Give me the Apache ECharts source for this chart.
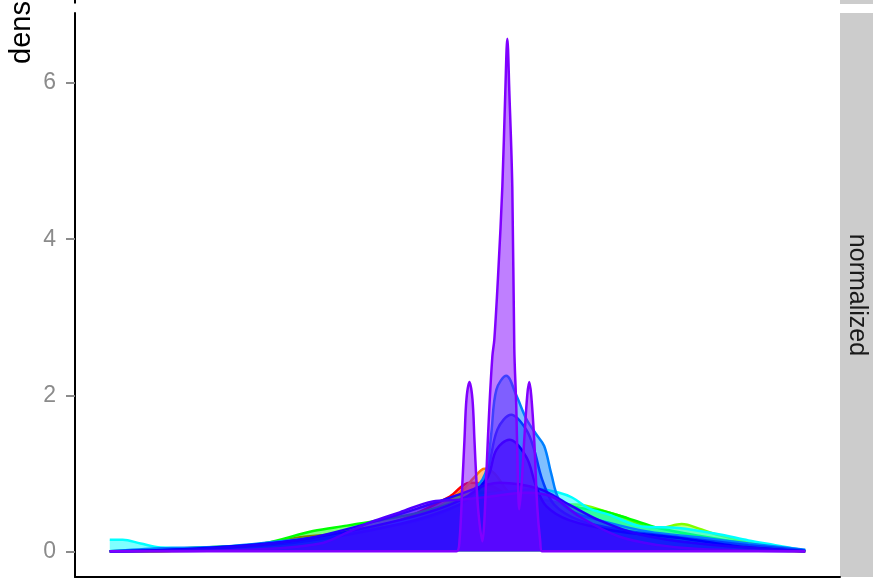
<!DOCTYPE html>
<html>
<head>
<meta charset="utf-8">
<script src="https://cdn.jsdelivr.net/npm/echarts@6/dist/echarts.min.js"></script>
<style>
html,body{margin:0;padding:0;background:#fff;}
#chart{width:873px;height:578px;}
</style>
</head>
<body>
<div id="chart"></div>
<script>
// y-axis tick values
const yTicks = [0, 2, 4, 6];
const stripLabel = 'normalized';
const yTitle = 'density';

// density curves, [x, density] pairs, drawn bottom to top
const sRed = [[-3.49,0],[-2.08,0.05],[-1.58,0.18],[-1.11,0.24],[-0.58,0.4],[-0.08,0.7],[0.12,0.88],[0.32,0.85],[0.52,0.7],[0.82,0.45],[1.22,0.3],[1.92,0.15],[2.92,0.04],[3.49,0]];
const sOrange = [[-3.49,0],[-2.08,0.05],[-1.28,0.22],[-0.38,0.45],[0.02,0.75],[0.17,0.95],[0.27,1.06],[0.37,1.0],[0.52,0.75],[0.82,0.5],[1.22,0.35],[1.62,0.25],[2.42,0.1],[3.49,0]];
const sYellow = [[-3.49,0],[-2.08,0.03],[-1.08,0.15],[-0.28,0.35],[0.22,0.55],[0.62,0.5],[1.22,0.3],[1.92,0.15],[2.62,0.05],[3.49,0]];
const sChartreuse = [[-3.49,0],[-2.08,0.05],[-1.08,0.25],[-0.38,0.45],[-0.05,0.66],[0.22,0.8],[0.42,0.72],[0.82,0.6],[1.19,0.6],[1.52,0.5],[1.69,0.43],[1.89,0.32],[2.04,0.3],[2.25,0.35],[2.45,0.28],[2.59,0.22],[2.89,0.13],[3.19,0.06],[3.49,0]];
const sGreen = [[-3.49,0],[-2.98,0.03],[-2.38,0.06],[-1.95,0.1],[-1.45,0.26],[-1.11,0.33],[-0.78,0.4],[-0.38,0.5],[-0.05,0.62],[0.22,0.75],[0.42,0.75],[0.72,0.7],[1.02,0.62],[1.22,0.56],[1.45,0.52],[1.72,0.42],[2.02,0.3],[2.42,0.2],[2.92,0.1],[3.49,0.01]];
const sCyan = [[-3.49,0.15],[-3.36,0.15],[-3.18,0.1],[-2.98,0.05],[-2.58,0.04],[-1.98,0.07],[-1.38,0.15],[-0.78,0.3],[-0.28,0.5],[0.12,0.68],[0.42,0.75],[0.82,0.8],[1.02,0.75],[1.15,0.69],[1.32,0.55],[1.52,0.47],[1.85,0.32],[2.22,0.3],[2.62,0.22],[2.92,0.14],[3.19,0.08],[3.49,0.01]];
const sAzure = [[-3.49,0],[-2.98,0.04],[-2.38,0.06],[-1.78,0.13],[-1.28,0.2],[-0.78,0.3],[-0.38,0.4],[0.02,0.6],[0.17,0.8],[0.25,0.92],[0.30,1.09],[0.34,1.52],[0.39,2.07],[0.49,2.25],[0.59,2.0],[0.69,1.7],[0.79,1.5],[0.87,1.35],[0.94,1.0],[1.02,0.66],[1.17,0.5],[1.42,0.4],[1.92,0.25],[2.42,0.18],[2.92,0.1],[3.49,0.02]];
const sBlue1 = [[-3.49,0],[-2.58,0.03],[-1.58,0.12],[-0.58,0.35],[0.02,0.6],[0.22,0.8],[0.30,1.0],[0.40,1.56],[0.54,1.75],[0.69,1.56],[0.77,1.3],[0.85,0.92],[0.97,0.6],[1.22,0.4],[1.62,0.28],[2.22,0.18],[2.92,0.08],[3.49,0.01]];
const sBlue2 = [[-3.49,0],[-2.58,0.04],[-1.58,0.15],[-0.58,0.4],[0.02,0.65],[0.29,0.92],[0.39,1.3],[0.52,1.43],[0.69,1.21],[0.79,0.83],[0.89,0.58],[1.12,0.4],[1.59,0.26],[2.02,0.2],[2.35,0.15],[2.79,0.07],[3.49,0]];
const sBlue3 = [[-3.49,0],[-2.58,0.03],[-1.58,0.15],[-0.78,0.4],[-0.28,0.6],[0.02,0.73],[0.42,0.88],[0.82,0.8],[1.12,0.6],[1.42,0.4],[1.82,0.22],[2.42,0.1],[3.49,0]];
const sIndigo = [[-3.49,0],[-2.08,0.02],[-1.38,0.1],[-1.11,0.24],[-0.88,0.37],[-0.58,0.5],[-0.25,0.64],[0.02,0.66],[0.32,0.7],[0.69,0.75],[0.95,0.7],[1.22,0.45],[1.62,0.19],[2.02,0.08],[2.42,0.03],[3.49,0]];
const sViolet = [[-3.49,0],[-0.2,0],[-0.01,0],[0.02,0.13],[0.05,0.9],[0.07,1.43],[0.09,1.95],[0.12,2.17],[0.15,1.95],[0.17,1.43],[0.19,0.9],[0.21,0.5],[0.25,0.13],[0.27,0.4],[0.29,1.0],[0.32,1.85],[0.35,2.5],[0.37,2.72],[0.41,3.6],[0.45,4.67],[0.48,5.9],[0.50,6.57],[0.52,5.9],[0.55,4.67],[0.57,2.6],[0.59,1.85],[0.605,1.0],[0.62,0.54],[0.645,0.9],[0.67,1.43],[0.70,2.0],[0.72,2.17],[0.74,2.0],[0.77,1.43],[0.80,0.58],[0.83,0.13],[0.85,0],[3.49,0]];

const curves = [sRed, sOrange, sYellow, sChartreuse, sGreen, sCyan, sAzure, sBlue1, sBlue2, sBlue3, sIndigo, sViolet];
const palette = ['#FF0000','#FF8000','#FFFF00','#80FF00','#00FF00','#00FFFF','#0080FF','#0040FF','#0000FF','#2000FF','#5000FF','#8000FF'];

const xLo = -3.49, xHi = 3.49;
const xPad = (xHi - xLo) * 0.05;
const yMaxData = 6.57;
const yPad = yMaxData * 0.05;

const chart = echarts.init(document.getElementById('chart'), null, {renderer: 'canvas'});
const FONT = 'Liberation Sans, Arial, Helvetica, sans-serif';

chart.setOption({
  animation: false,
  backgroundColor: '#ffffff',
  grid: {left: 75, right: 33, top: 13, bottom: 1, containLabel: false},
  xAxis: {
    type: 'value', min: xLo - xPad, max: xHi + xPad,
    axisLine: {show: true, onZero: false, lineStyle: {color: '#000', width: 2}},
    axisTick: {show: false}, axisLabel: {show: false}, splitLine: {show: false}
  },
  yAxis: {
    type: 'value', min: -yPad, max: yMaxData + yPad,
    axisLine: {show: true, onZero: false, lineStyle: {color: '#000', width: 2}},
    axisTick: {show: true, customValues: yTicks, length: 9, lineStyle: {color: '#8B8B8B', width: 2}},
    axisLabel: {show: true, customValues: yTicks, color: '#8B8B8B', fontSize: 23, fontFamily: FONT, margin: 19},
    splitLine: {show: false}
  },
  graphic: [
    {type: 'rect', shape: {x: 840, y: 13, width: 40, height: 564}, style: {fill: '#CCCCCC'}, silent: true},
    {type: 'rect', shape: {x: 840, y: -20, width: 40, height: 24}, style: {fill: '#CCCCCC'}, silent: true},
    {type: 'line', shape: {x1: 75, y1: -5, x2: 75, y2: 3.5}, style: {stroke: '#000', lineWidth: 2}, silent: true},
    {type: 'text', x: 857, y: 295, rotation: -Math.PI / 2,
     style: {text: stripLabel, fill: '#1A1A1A', font: '25px ' + FONT, align: 'center', verticalAlign: 'middle', textAlign: 'center', textVerticalAlign: 'middle'}, silent: true},
    {type: 'text', x: 22, y: 64, rotation: Math.PI / 2,
     style: {text: yTitle, fill: '#000', font: '29px ' + FONT, align: 'left', verticalAlign: 'middle', textAlign: 'left', textVerticalAlign: 'middle'}, silent: true}
  ],
  series: curves.map((d, i) => ({
    type: 'line',
    data: d,
    showSymbol: false,
    smooth: 0.35,
    clip: true,
    z: 2 + i,
    lineStyle: {color: palette[i], width: 2.5},
    itemStyle: {color: palette[i]},
    areaStyle: {color: palette[i], opacity: 0.5, origin: 0}
  }))
});
</script>
</body>
</html>
